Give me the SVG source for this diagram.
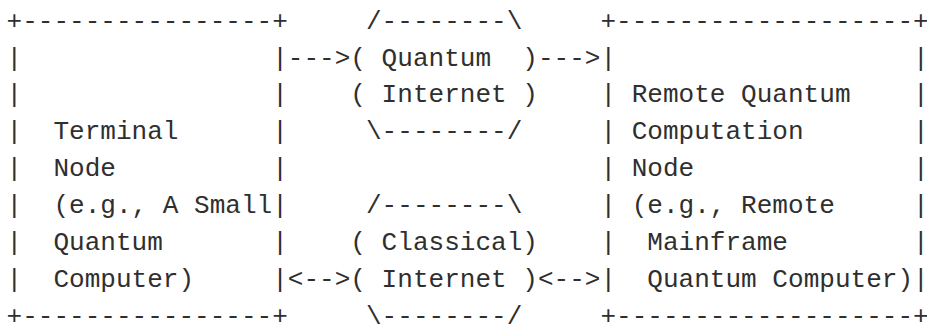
<svg xmlns="http://www.w3.org/2000/svg" width="927" height="324" viewBox="0 0 927 324">
<style>
text{font-family:"Liberation Mono","DejaVu Sans Mono",monospace;font-size:26.05px;fill:#2f2f2f;white-space:pre}
</style>
<rect width="927" height="324" fill="#fff"/>
<g id="terminal-node">
<text x="6.5" y="28.6">+----------------+</text>
<text x="6.5" y="65.5">|</text><text x="272.21" y="65.5">|</text>
<text x="6.5" y="102.4">|</text><text x="272.21" y="102.4">|</text>
<text x="6.5" y="139.3">|</text><text x="272.21" y="139.3">|</text>
<text x="6.5" y="176.2">|</text><text x="272.21" y="176.2">|</text>
<text x="6.5" y="213.1">|</text><text x="272.21" y="213.1">|</text>
<text x="6.5" y="250">|</text><text x="272.21" y="250">|</text>
<text x="6.5" y="286.9">|</text><text x="272.21" y="286.9">|</text>
<text x="6.5" y="323.5">+----------------+</text>
<text x="53.39" y="139.3">Terminal</text>
<text x="53.39" y="176.2">Node</text>
<text x="53.39" y="213.1">(e.g., A Small</text>
<text x="53.39" y="250">Quantum</text>
<text x="53.39" y="286.9">Computer)</text>
</g>
<g id="quantum-internet">
<text x="365.99" y="28.6">/--------\</text>
<text x="350.36" y="65.5" xml:space="preserve">( Quantum  )</text>
<text x="350.36" y="102.4" xml:space="preserve">( Internet )</text>
<text x="365.99" y="139.3">\--------/</text>
</g>
<g id="classical-internet">
<text x="365.99" y="213.1">/--------\</text>
<text x="350.36" y="250" xml:space="preserve">( Classical)</text>
<text x="350.36" y="286.9" xml:space="preserve">( Internet )</text>
<text x="365.99" y="323.5">\--------/</text>
</g>
<g id="remote-node">
<text x="600.44" y="28.6">+-------------------+</text>
<text x="600.44" y="65.5">|</text><text x="913.04" y="65.5">|</text>
<text x="600.44" y="102.4">|</text><text x="913.04" y="102.4">|</text>
<text x="600.44" y="139.3">|</text><text x="913.04" y="139.3">|</text>
<text x="600.44" y="176.2">|</text><text x="913.04" y="176.2">|</text>
<text x="600.44" y="213.1">|</text><text x="913.04" y="213.1">|</text>
<text x="600.44" y="250">|</text><text x="913.04" y="250">|</text>
<text x="600.44" y="286.9">|</text><text x="913.04" y="286.9">|</text>
<text x="600.44" y="323.5">+-------------------+</text>
<text x="631.7" y="102.4">Remote Quantum</text>
<text x="631.7" y="139.3">Computation</text>
<text x="631.7" y="176.2">Node</text>
<text x="631.7" y="213.1">(e.g., Remote</text>
<text x="647.33" y="250">Mainframe</text>
<text x="647.33" y="286.9">Quantum Computer)</text>
</g>
<g id="connectors">
<text x="287.84" y="65.5">---&gt;</text>
<text x="537.92" y="65.5">---&gt;</text>
<text x="287.84" y="286.9">&lt;--&gt;</text>
<text x="537.92" y="286.9">&lt;--&gt;</text>
</g>
</svg>
